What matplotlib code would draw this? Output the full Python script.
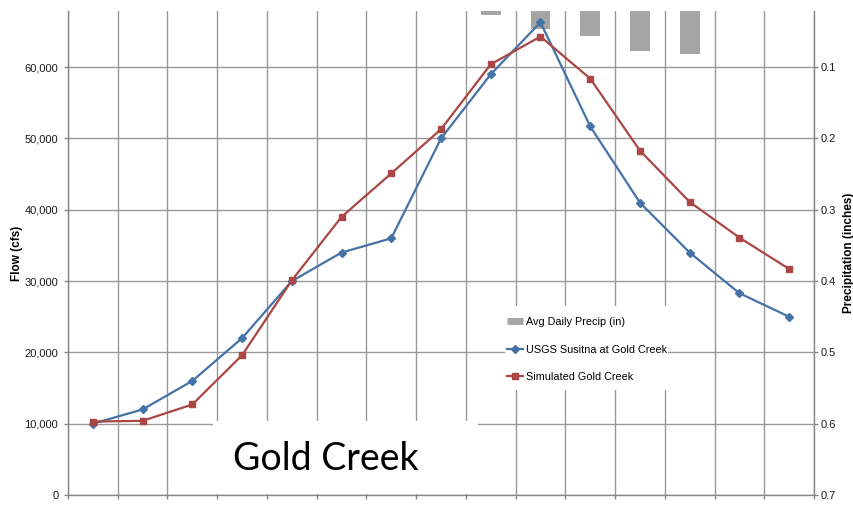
import matplotlib
matplotlib.use("Agg")
import matplotlib.pyplot as plt
from matplotlib.lines import Line2D
from matplotlib.patches import Rectangle
from matplotlib.ticker import FuncFormatter, MultipleLocator, NullFormatter
import numpy as np

plt.rcParams["font.family"] = ["Liberation Sans", "DejaVu Sans"]

# Weekly series along the hydrograph (15 periods)
periods = list(range(15))
usgs_flow = [10000, 12000, 16000, 22000, 30000, 34000, 36000, 50000,
             59000, 66300, 51700, 41000, 34000, 28300, 25000]
simulated_flow = [10300, 10400, 12700, 19600, 30100, 39000, 45100, 51300,
                  60400, 64300, 58400, 48300, 41100, 36100, 31700]
avg_precip = [0, 0, 0, 0, 0, 0, 0, 0,
              0.027, 0.047, 0.056, 0.077, 0.081, 0, 0]

flow_ticks = [0, 10000, 20000, 30000, 40000, 50000, 60000]
precip_ticks = [0.1, 0.2, 0.3, 0.4, 0.5, 0.6, 0.7]

BLUE = "#4572A7"
RED = "#AA4643"
GRAY_BAR = "#A5A5A5"
GRID = "#999999"
AXIS = "#868686"

fig = plt.figure(figsize=(8.54, 5.05), dpi=100)
W, H = 854, 505
left, right, top, bottom = 68, 814, 11, 495
ax = fig.add_axes([left / W, 1 - bottom / H, (right - left) / W, (bottom - top) / H])
ax2 = ax.twinx()

# Precipitation bars hang from the top on the inverted secondary axis
ax2.bar(periods, avg_precip, width=0.4, color=GRAY_BAR, zorder=1)
ax2.set_ylim(0.7, 0.0212)
ax2.set_yticks(precip_ticks)
ax2.yaxis.set_major_formatter(FuncFormatter(lambda v, p: f"{v:.1f}"))
ax2.set_ylabel("Precipitation (inches)", fontsize=8.5, fontweight="bold",
               labelpad=5)

ax.set_zorder(ax2.get_zorder() + 1)
ax.patch.set_visible(False)

ax.plot(periods, usgs_flow, color=BLUE, lw=1.6, marker="D", ms=3.6,
        zorder=3, label="USGS Susitna at Gold Creek")
ax.plot(periods, simulated_flow, color=RED, lw=1.6, marker="s", ms=5,
        zorder=3, label="Simulated Gold Creek")

ax.set_xlim(-0.5, 14.5)
ax.set_ylim(0, 67880)
ax.set_yticks(flow_ticks)
ax.yaxis.set_major_formatter(FuncFormatter(lambda v, p: f"{int(v):,}"))
ax.set_ylabel("Flow (cfs)", fontsize=8.5, fontweight="bold", labelpad=1)

# Category boundaries carry the vertical grid and the x tick marks
ax.set_xticks([])
ax.xaxis.set_minor_locator(MultipleLocator(1, offset=0.5))
ax.xaxis.set_minor_formatter(NullFormatter())
ax.grid(True, which="minor", axis="x", color=GRID, lw=1.0)
ax.grid(True, which="major", axis="y", color=GRID, lw=1.0)

for a in (ax, ax2):
    for s in a.spines.values():
        s.set_color(AXIS)
        s.set_linewidth(1.0)
    a.spines["top"].set_visible(False)
ax.spines["right"].set_visible(False)
ax2.spines["left"].set_visible(False)
ax2.spines["bottom"].set_visible(False)

ax.tick_params(axis="y", length=3, width=1, color=AXIS, labelsize=8,
               labelcolor="#1a1a1a", pad=4)
ax.tick_params(axis="x", which="minor", length=3, width=1, color=AXIS)
ax2.tick_params(axis="y", length=3, width=1, color=AXIS, labelsize=8,
                labelcolor="#1a1a1a", pad=2)

# White panel behind the title text and behind the legend
def px_rect(x0, y0, x1, y1):
    return Rectangle((x0 / W, 1 - y1 / H), (x1 - x0) / W, (y1 - y0) / H,
                     transform=fig.transFigure, facecolor="white",
                     edgecolor="none", zorder=1.8)

title_box = px_rect(213, 421, 478, 494)
legend_box = px_rect(505, 306, 668, 390)
for r in (title_box, legend_box):
    r.set_transform(fig.transFigure)
    ax.add_artist(r)

fig.text(326 / W, 1 - 459 / H, "Gold Creek", family="Lato", fontsize=27,
         ha="center", va="center", color="black", zorder=5)

handles = [
    Line2D([], [], color=GRAY_BAR, lw=5, solid_capstyle="butt"),
    Line2D([], [], color=BLUE, lw=1.6, marker="D", ms=3.6),
    Line2D([], [], color=RED, lw=1.6, marker="s", ms=5),
]
labels = ["Avg Daily Precip (in)", "USGS Susitna at Gold Creek",
          "Simulated Gold Creek"]
leg = ax.legend(handles, labels, loc="upper left",
                bbox_to_anchor=(505 / W, 1 - 315 / H),
                bbox_transform=fig.transFigure, frameon=False,
                fontsize=7.8, handlelength=1.5, handletextpad=0.2,
                labelspacing=1.62, borderpad=0.2, borderaxespad=0)
leg.set_zorder(6)

fig.savefig("out.png", dpi=100)
